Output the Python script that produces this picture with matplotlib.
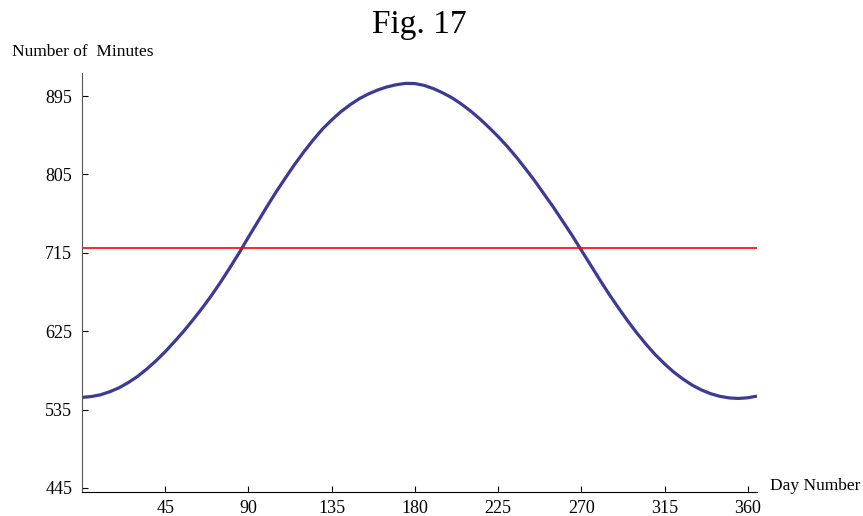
import matplotlib
matplotlib.use("Agg")
import matplotlib.pyplot as plt

plt.rcParams['font.family'] = ['Liberation Serif', 'DejaVu Serif']

# day length (minutes) every 5 days
days = [0, 5, 10, 15, 20, 25, 30, 35, 40, 45, 50, 55, 60, 65, 70, 75, 80, 85, 90, 95,
        100, 105, 110, 115, 120, 125, 130, 135, 140, 145, 150, 155, 160, 165, 170, 175, 180,
        185, 190, 195, 200, 205, 210, 215, 220, 225, 230, 235, 240, 245, 250, 255, 260, 265,
        270, 275, 280, 285, 290, 295, 300, 305, 310, 315, 320, 325, 330, 335, 340, 345, 350,
        355, 360, 365]
minutes = [549, 550, 552, 555.5, 560, 566, 573, 581.5, 591, 601.5, 613, 625, 638, 651.5, 666, 681.5,
           698, 715, 733, 750.5, 768, 785, 801, 816.5, 831, 844.5, 857, 867.5, 877, 885, 892, 897.5,
           902, 905.5, 908, 909.5, 909.3, 907.2, 903.5, 898.7, 893, 886, 878, 869, 859, 848.5, 837,
           824.5, 811, 797, 782, 767, 751, 735, 718, 701, 684, 667.5, 652, 637, 623, 610, 598,
           587.5, 578, 570, 563, 557.5, 553.2, 550.2, 548.4, 547.8, 548.6, 550.5]
equinox_level = 720

x_ticks = [45, 90, 135, 180, 225, 270, 315, 360]
y_ticks = [445, 535, 625, 715, 805, 895]

fig = plt.figure(figsize=(8.63, 5.16), dpi=100)
ax = fig.add_axes([0.095, 0.0465, 0.7822, 0.812])

ax.plot(days, minutes, color='#3b3b96', linewidth=2.3,
        solid_capstyle='butt', solid_joinstyle='round')
ax.axhline(equinox_level, color='#ff0000', linewidth=1.2)

ax.set_xlim(0, 365)
ax.set_ylim(440.4, 921.4)
ax.set_xticks(x_ticks)
ax.set_yticks(y_ticks)

for side in ('top', 'right'):
    ax.spines[side].set_visible(False)
ax.spines['left'].set_color('#555555')
ax.spines['bottom'].set_color('#000000')
ax.tick_params(direction='in', length=4, width=0.8, labelsize=13)
ax.tick_params(axis='x', pad=6)
ax.tick_params(axis='y', pad=7)

fig.text(0.014, 0.899, 'Number of  Minutes', fontsize=12.5, ha='left', va='center')
fig.text(0.892, 0.058, 'Day Number', fontsize=12.5, ha='left', va='center')
fig.text(0.486, 0.952, 'Fig. 17', fontsize=24, ha='center', va='center')

fig.savefig('out.png', dpi=100)
